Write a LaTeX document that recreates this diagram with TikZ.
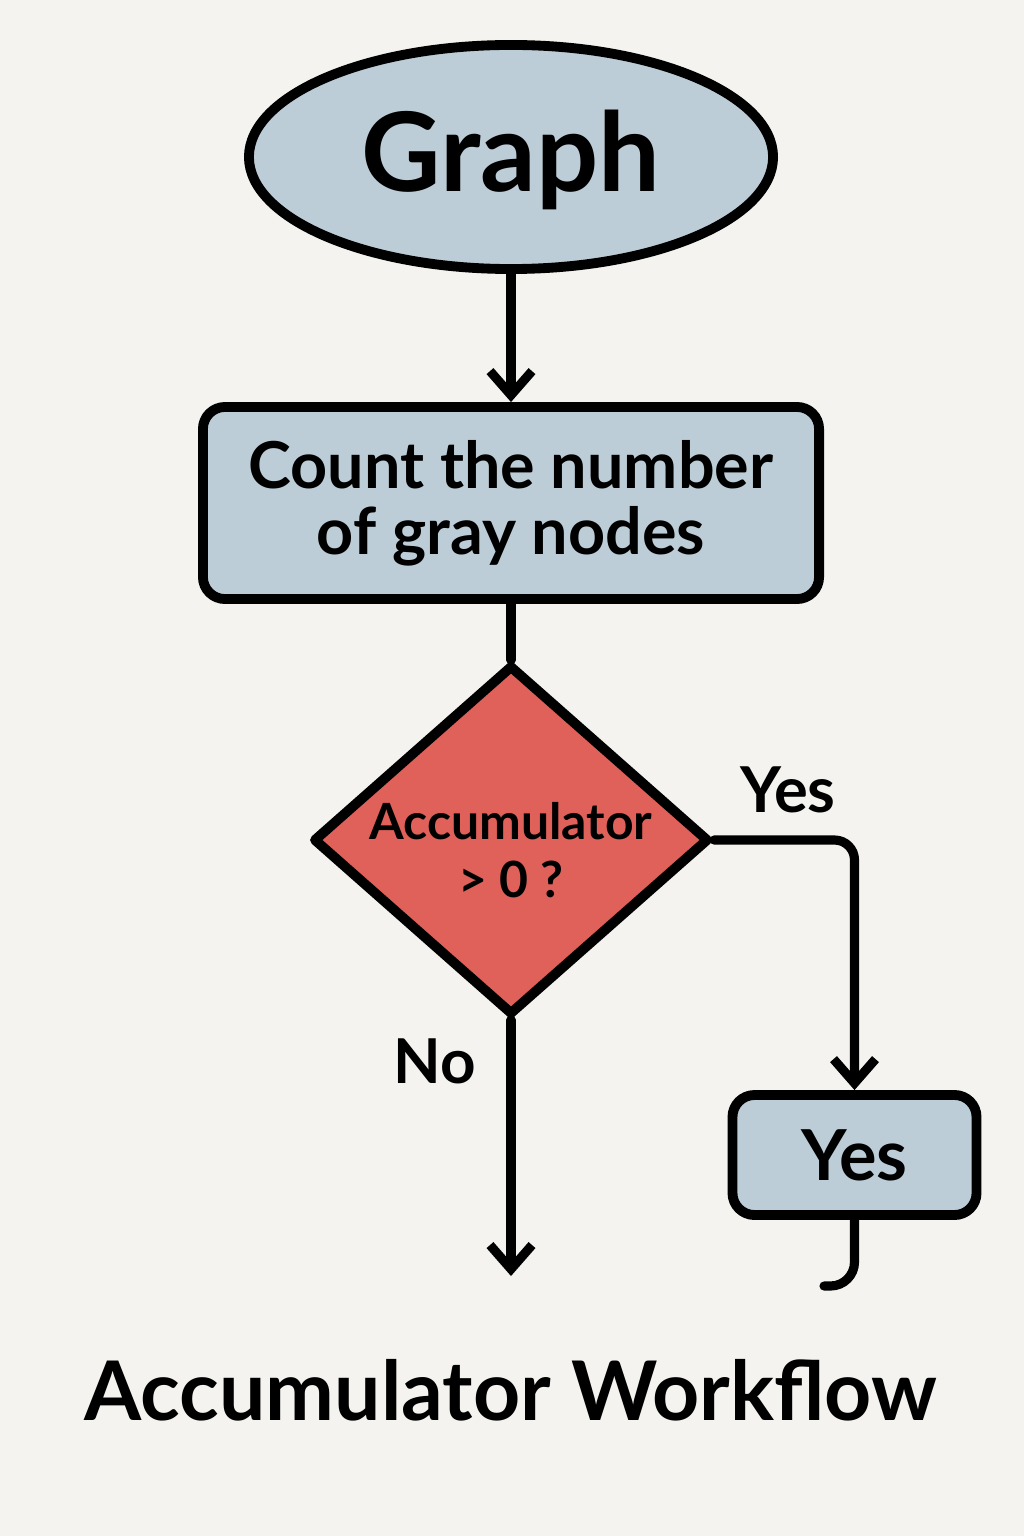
\documentclass[tikz,border=0pt]{standalone}
\usepackage{fontspec}
\setmainfont{Lato}
\usetikzlibrary{shapes.geometric,arrows.meta}
\definecolor{paper}{HTML}{F4F3EF}
\definecolor{boxblue}{HTML}{BCCDD7}
\definecolor{decred}{HTML}{E0605A}
\tikzset{
  flow/.style={line width=6.5pt, -{Straight Barb[length=0.6cm, width=1.05cm, line width=6.5pt]}},
  link/.style={line width=6.5pt},
  blockbox/.style={draw, line width=7pt, fill=boxblue, rounded corners=0.55cm, align=center, inner sep=0pt},
}
\begin{document}
\begin{tikzpicture}[x=0.025cm, y=-0.025cm, line join=round, line cap=round, font=\bfseries]
		\fill[paper] (0,0) rectangle (1024,1536);
		\useasboundingbox (0,0) rectangle (1024,1536);
		\path
		(511,1276) coordinate (noend)
		(824,1286) coordinate (tail);
		% boxes
		\node[ellipse, draw, line width=7pt, fill=boxblue, minimum width=13.1cm, minimum height=5.6cm, inner sep=0pt] (graph) at (511,157) {};
		\node[font=\fontsize{78}{84}\selectfont\bfseries] (graphtxt) at (511,160) {Graph};
		\node[blockbox, minimum width=15.4cm, minimum height=4.8cm, font=\fontsize{46}{47}\selectfont\bfseries] (count) at (511,503) {Count the number\\of gray nodes};
		\node[diamond, draw, line width=7pt, fill=decred, minimum width=9.9cm, minimum height=8.75cm, inner sep=0pt] (dec) at (511,840) {};
		\node[align=center, font=\fontsize{35.5}{41}\selectfont\bfseries] (dectxt) at (511,850) {Accumulator\\> 0 ?};
		\node[blockbox, minimum width=6.1cm, minimum height=3.0cm, font=\fontsize{50}{56}\selectfont\bfseries] (yesbox) at (854.5,1155) {Yes};
		% labels
		\node[font=\fontsize{45}{52}\selectfont\bfseries] (yeslab) at (788,790) {Yes};
		\node[font=\fontsize{44}{52}\selectfont\bfseries] (nolab) at (435,1061) {No};
		\node[font=\fontsize{58.5}{64}\selectfont\bfseries] (title) at (511,1390) {Accumulator Workflow};
		% connectors
		\draw[flow] (graph.south) -- (count.north);
		\draw[link] (count.south) -- (dec.north);
		\draw[flow, rounded corners=0.5cm] (dec.east) -| (yesbox.north);
		\draw[flow] (dec.south) -- (noend);
		\draw[link, rounded corners=0.6cm] (yesbox.south) |- (tail);
	\end{tikzpicture}
\end{document}
